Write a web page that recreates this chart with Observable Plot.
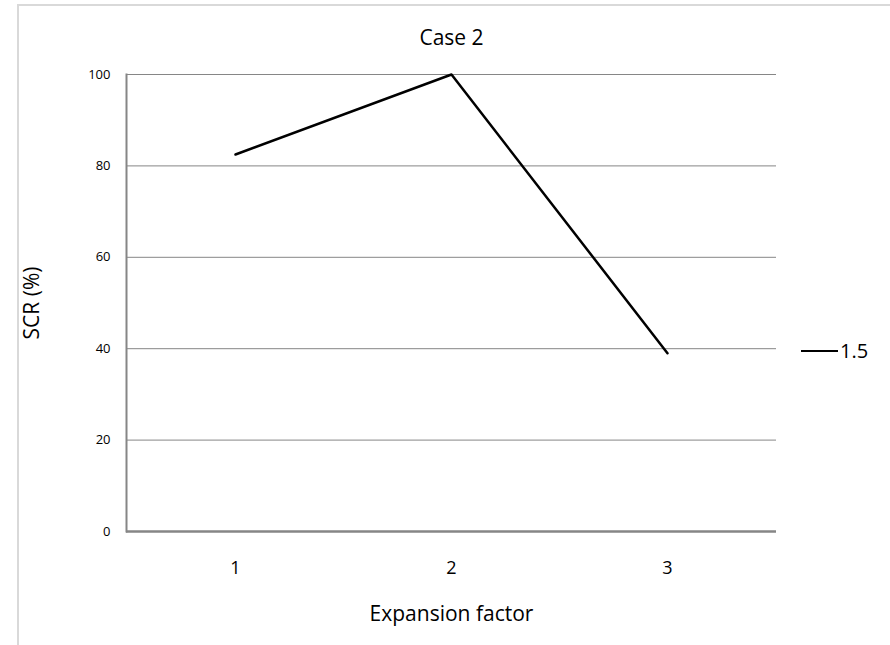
<!DOCTYPE html>
<html>
<head>
<meta charset="utf-8">
<script src="https://cdn.jsdelivr.net/npm/d3@7"></script>
<script src="https://cdn.jsdelivr.net/npm/@observablehq/plot@0.6"></script>
<style>
  html, body { margin: 0; padding: 0; background: #fff; }
  #wrap { position: relative; width: 890px; height: 645px; overflow: hidden; font-family: "Open Sans", sans-serif; }
  #border { position: absolute; left: 17px; top: 4px; width: 880px; height: 700px; border: 2px solid #d9d9d9; box-sizing: border-box; }
  #chart { position: absolute; left: 0; top: 0; }
  #legend { position: absolute; left: 801px; top: 337px; font-size: 20px; color: #000; display: flex; align-items: center; }
  #legend span.sw { display: inline-block; width: 37px; height: 0; border-top: 2.5px solid #000; margin-right: 2px; }
</style>
</head>
<body>
<div id="wrap">
  <div id="border"></div>
  <div id="chart"></div>
  <div id="legend"><span class="sw"></span><span id="legendLabel"></span></div>
</div>
<script>
const categories = ["1", "2", "3"];
const scrValues = [82.5, 100, 39];
const yTicks = [0, 20, 40, 60, 80, 100];
const seriesName = "1.5";
const titleText = "Case 2";
const xLabel = "Expansion factor";
const yLabel = "SCR (%)";

const data = categories.map((c, i) => ({ x: c, y: scrValues[i] }));

document.getElementById("legendLabel").textContent = seriesName;

const chart = Plot.plot({
  width: 890,
  height: 645,
  marginLeft: 126,
  marginRight: 114,
  marginTop: 74,
  marginBottom: 114,
  style: { fontFamily: "Open Sans, sans-serif", background: "transparent", overflow: "visible" },
  x: { type: "point", domain: categories, padding: 0.5, label: null },
  y: { domain: [0, 100], ticks: yTicks, label: null },
  marks: [
    Plot.gridY(yTicks, { stroke: "#868686", strokeOpacity: 1, strokeWidth: 1 }),
    Plot.frame({ anchor: "left", stroke: "#868686", strokeWidth: 2 }),
    Plot.ruleY([0], { stroke: "#868686", strokeWidth: 2.5 }),
    Plot.axisY(yTicks, { tickSize: 0, tickPadding: 16, fontSize: 13, fill: "#000", label: null }),
    Plot.axisX({ tickSize: 0, tickPadding: 30, fontSize: 18, fill: "#000", label: null }),
    Plot.text([titleText], { frameAnchor: "top", dy: -36, fontSize: 21, fill: "#000", lineAnchor: "middle", textAnchor: "middle" }),
    Plot.text([xLabel], { frameAnchor: "bottom", dy: 83, fontSize: 21, fill: "#000", lineAnchor: "middle", textAnchor: "middle" }),
    Plot.text([yLabel], { frameAnchor: "left", dx: -94, rotate: -90, fontSize: 21, fill: "#000", lineAnchor: "middle", textAnchor: "middle" }),
    Plot.lineY(data, { x: "x", y: "y", stroke: "#000", strokeWidth: 2.5 })
  ]
});

document.getElementById("chart").appendChild(chart);
</script>
</body>
</html>
